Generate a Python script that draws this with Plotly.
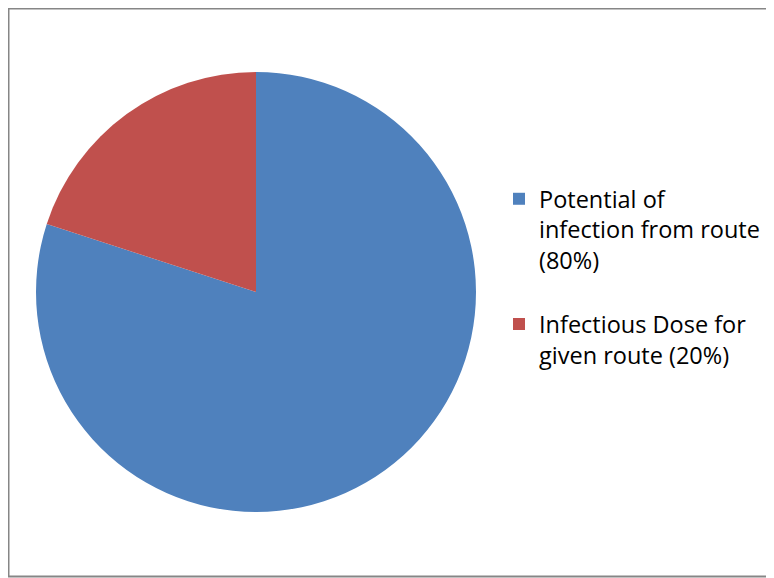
import plotly.graph_objects as go

labels = ["Potential of<br>infection from route<br>(80%)<br>&nbsp;", "Infectious Dose for<br>given route (20%)"]
values = [80, 20]
colors = ["#4F81BD", "#C0504D"]

W, H = 774, 578
OFF = 8  # page body margin

def px(x):
    return (x - OFF) / W

def py(y):
    return 1 - (y - OFF) / H

fig = go.Figure(go.Pie(
    labels=labels,
    values=values,
    sort=False,
    direction="clockwise",
    rotation=0,
    textinfo="none",
    hoverinfo="label+value",
    marker=dict(colors=colors, line=dict(width=0)),
    domain=dict(x=[px(36), px(476)], y=[py(512), py(72)]),
))

fig.update_layout(
    width=W, height=H,
    margin=dict(l=0, r=0, t=0, b=0),
    paper_bgcolor="white",
    plot_bgcolor="white",
    font=dict(family="Open Sans", size=23.5, color="#000000"),
    legend=dict(
        x=px(499), y=py(177), xanchor="left", yanchor="top",
        font=dict(family="Open Sans", size=23.5),
        valign="top",
    ),
    shapes=[dict(
        type="rect", xref="paper", yref="paper",
        x0=0.5 / W, x1=1.01, y0=1 - 568.5 / H, y1=1 - 0.5 / H,
        line=dict(color="#868686", width=2), fillcolor="rgba(0,0,0,0)",
    )],
)

fig.write_html("out.html")
